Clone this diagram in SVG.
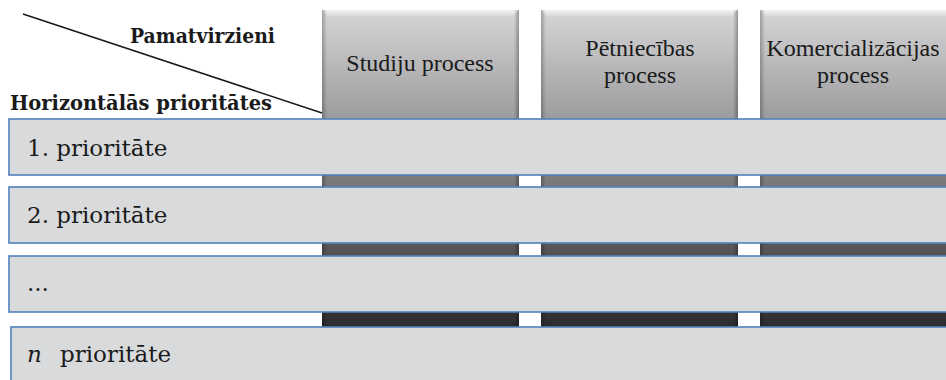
<svg xmlns="http://www.w3.org/2000/svg" width="946" height="380" viewBox="0 0 946 380">
  <defs>
    <linearGradient id="colFill" gradientUnits="userSpaceOnUse" x1="0" y1="10" x2="0" y2="330">
      <stop offset="0" stop-color="#d6d6d8"/>
      <stop offset="1" stop-color="#2a2a2a"/>
    </linearGradient>
    <linearGradient id="bevelTop" x1="0" y1="0" x2="0" y2="1">
      <stop offset="0" stop-color="#f4f4f5"/>
      <stop offset="1" stop-color="#d8d8da"/>
    </linearGradient>
    <linearGradient id="edgeL" x1="0" y1="0" x2="1" y2="0">
      <stop offset="0" stop-color="#000" stop-opacity="0.25"/>
      <stop offset="1" stop-color="#000" stop-opacity="0"/>
    </linearGradient>
    <linearGradient id="edgeR" x1="0" y1="0" x2="1" y2="0">
      <stop offset="0" stop-color="#000" stop-opacity="0"/>
      <stop offset="1" stop-color="#000" stop-opacity="0.3"/>
    </linearGradient>
  </defs>
  <style>
    .col { fill: url(#colFill); }
    .bevel { fill: url(#bevelTop); }
    .shadeL { fill: url(#edgeL); }
    .shadeR { fill: url(#edgeR); }
    .colText { font-family: "Liberation Serif", "Times New Roman", serif; font-size: 24px; fill: #1a1a1a; text-anchor: middle; }
    .head { font-family: "DejaVu Serif", "Liberation Serif", serif; font-weight: bold; font-size: 19.5px; fill: #1a1a1a; }
    .bar { fill: #d9dadc; stroke: #4f81bd; stroke-width: 1.6; }
    .barText { font-family: "DejaVu Serif", "Liberation Serif", serif; font-size: 23px; fill: #1a1a1a; }
  </style>

  <!-- corner header with diagonal divider -->
  <g id="header">
    <line x1="23" y1="14" x2="322" y2="113" stroke="#1a1a1a" stroke-width="1.6"/>
    <text class="head" x="130" y="43" textLength="145" lengthAdjust="spacingAndGlyphs">Pamatvirzieni</text>
    <text class="head" x="10" y="110" textLength="262" lengthAdjust="spacingAndGlyphs">Horizontālās prioritātes</text>
  </g>

  <!-- vertical process columns -->
  <g id="col-studiju">
    <rect class="col" x="322" y="10" width="197" height="370"/>
    <polygon class="bevel" points="322,10 519,10 514,16 327,16"/>
    <rect class="shadeL" x="322" y="10" width="5" height="370"/>
    <rect class="shadeR" x="514" y="10" width="5" height="370"/>
    <text class="colText" x="420" y="71">Studiju process</text>
  </g>
  <g id="col-petniecibas">
    <rect class="col" x="541" y="10" width="197" height="370"/>
    <polygon class="bevel" points="541,10 738,10 733,16 546,16"/>
    <rect class="shadeL" x="541" y="10" width="5" height="370"/>
    <rect class="shadeR" x="733" y="10" width="5" height="370"/>
    <text class="colText" x="640" y="56">Pētniecības</text>
    <text class="colText" x="640" y="83">process</text>
  </g>
  <g id="col-komercializacijas">
    <rect class="col" x="760" y="10" width="200" height="370"/>
    <polygon class="bevel" points="760,10 960,10 955,16 765,16"/>
    <rect class="shadeL" x="760" y="10" width="5" height="370"/>
    <text class="colText" x="853" y="56">Komercializācijas</text>
    <text class="colText" x="853" y="83">process</text>
  </g>

  <!-- horizontal priority bars -->
  <g id="bar-1">
    <rect class="bar" x="9" y="119" width="950" height="56"/>
    <text class="barText" x="27" y="156">1. prioritāte</text>
  </g>
  <g id="bar-2">
    <rect class="bar" x="9" y="187" width="950" height="56"/>
    <text class="barText" x="27" y="223">2. prioritāte</text>
  </g>
  <g id="bar-3">
    <rect class="bar" x="9" y="256" width="950" height="56"/>
    <text class="barText" x="27" y="291">...</text>
  </g>
  <g id="bar-n">
    <rect class="bar" x="11" y="327" width="950" height="60"/>
    <text class="barText" x="27" y="362"><tspan font-style="italic">n</tspan><tspan x="60">prioritāte</tspan></text>
  </g>

  <g id="connectors"></g>
</svg>
